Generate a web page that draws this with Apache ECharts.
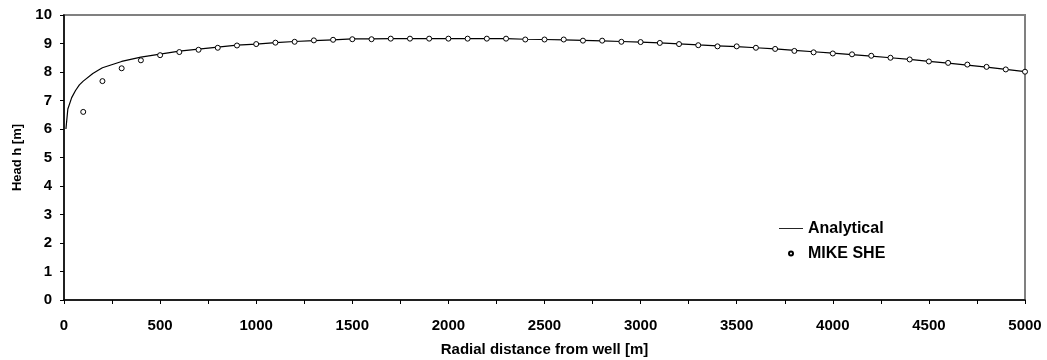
<!DOCTYPE html>
<html>
<head>
<meta charset="utf-8">
<script src="https://cdn.jsdelivr.net/npm/echarts@6/dist/echarts.min.js"></script>
<style>
  html, body { margin: 0; padding: 0; background: #fff; }
  #chart { width: 1047px; height: 360px; }
</style>
</head>
<body>
<div id="chart"></div>
<script>
// analytical solution (line)
const analyticalX = [10, 20, 40, 60, 80, 100, 150, 180, 200, 300, 400, 500, 600, 700, 800, 900,
  1000, 1100, 1200, 1300, 1400, 1500, 1600, 1700, 1800, 1900, 2000, 2100, 2200, 2300, 2400,
  2500, 2600, 2700, 2800, 2900, 3000, 3100, 3200, 3300, 3400, 3500, 3600, 3700, 3800, 3900,
  4000, 4100, 4200, 4300, 4400, 4500, 4600, 4700, 4800, 4900, 5000]
const analyticalH = [6.0, 6.7, 7.1, 7.35, 7.55, 7.68, 7.95, 8.07, 8.15, 8.37, 8.52, 8.63, 8.73, 8.80, 8.87, 8.94,
  8.98, 9.03, 9.07, 9.10, 9.13, 9.16, 9.16, 9.17, 9.17, 9.17, 9.17, 9.17, 9.17, 9.17, 9.15,
  9.14, 9.13, 9.11, 9.09, 9.07, 9.05, 9.02, 8.99, 8.95, 8.92, 8.89, 8.85, 8.81, 8.76, 8.71,
  8.66, 8.61, 8.56, 8.50, 8.44, 8.37, 8.31, 8.24, 8.17, 8.09, 8.01]

// MIKE SHE simulated heads (markers), every 100 m
const mikeX = [100, 200, 300, 400, 500, 600, 700, 800, 900, 1000, 1100, 1200, 1300, 1400, 1500,
  1600, 1700, 1800, 1900, 2000, 2100, 2200, 2300, 2400, 2500, 2600, 2700, 2800, 2900, 3000,
  3100, 3200, 3300, 3400, 3500, 3600, 3700, 3800, 3900, 4000, 4100, 4200, 4300, 4400, 4500,
  4600, 4700, 4800, 4900, 5000]
const mikeH = [6.60, 7.68, 8.13, 8.41, 8.59, 8.70, 8.78, 8.85, 8.93, 8.98, 9.03, 9.06, 9.11, 9.13, 9.15,
  9.15, 9.17, 9.17, 9.17, 9.17, 9.17, 9.17, 9.17, 9.14, 9.14, 9.14, 9.10, 9.10, 9.06, 9.05,
  9.02, 8.98, 8.94, 8.90, 8.90, 8.85, 8.81, 8.74, 8.69, 8.65, 8.62, 8.57, 8.50, 8.44, 8.37,
  8.32, 8.26, 8.18, 8.09, 8.01]

const font = 'Liberation Sans, Arial, sans-serif'

const chart = echarts.init(document.getElementById('chart'))
chart.setOption({
  animation: false,
  textStyle: { fontFamily: font },
  grid: {
    left: 64, top: 15, right: 22, bottom: 60,
    outerBoundsMode: 'none',
    containLabel: false,
    show: true,
    borderColor: '#808080',
    borderWidth: 2
  },
  legend: {
    orient: 'vertical',
    left: 774,
    top: 215,
    itemWidth: 24,
    itemHeight: 4,
    itemGap: 8,
    textStyle: { fontFamily: font, fontWeight: 'bold', fontSize: 16, lineHeight: 17, color: '#000' },
    data: [
      { name: 'Analytical', icon: 'path://M0,0H28V1H0Z' },
      { name: 'MIKE SHE', icon: 'circle' }
    ]
  },
  xAxis: {
    type: 'value',
    min: 0, max: 5000, interval: 500,
    name: 'Radial distance from well [m]',
    nameLocation: 'middle',
    nameGap: 42,
    nameTextStyle: { fontFamily: font, fontWeight: 'bold', fontSize: 15, color: '#000' },
    axisLine: { onZero: false, lineStyle: { color: '#000', width: 1.5 } },
    axisTick: { show: true, inside: false, length: 4, lineStyle: { color: '#000' } },
    minorTick: { show: true, splitNumber: 2, length: 4, lineStyle: { color: '#000' } },
    axisLabel: {
      fontFamily: font, fontWeight: 'bold', fontSize: 15, color: '#000', margin: 18,
      formatter: v => String(v)
    },
    splitLine: { show: false }
  },
  yAxis: {
    type: 'value',
    min: 0, max: 10, interval: 1,
    name: 'Head h [m]',
    nameLocation: 'middle',
    nameGap: 39,
    nameTextStyle: { fontFamily: font, fontWeight: 'bold', fontSize: 13, color: '#000' },
    axisLine: { show: true, onZero: false, lineStyle: { color: '#000', width: 1.5 } },
    axisTick: { show: true, inside: false, length: 4, lineStyle: { color: '#000' } },
    axisLabel: { fontFamily: font, fontWeight: 'bold', fontSize: 15, color: '#000', margin: 12 },
    splitLine: { show: false }
  },
  series: [
    {
      name: 'Analytical',
      type: 'line',
      symbol: 'none',
      data: analyticalX.map((x, i) => [x, analyticalH[i]]),
      lineStyle: { color: '#000', width: 1.2 },
      itemStyle: { color: '#000' },
      z: 2
    },
    {
      name: 'MIKE SHE',
      type: 'scatter',
      symbol: 'circle',
      symbolSize: 5,
      data: mikeX.map((x, i) => [x, mikeH[i]]),
      itemStyle: { color: '#fff', borderColor: '#000', borderWidth: 1, opacity: 1 },
      z: 3
    }
  ]
})
</script>
</body>
</html>
